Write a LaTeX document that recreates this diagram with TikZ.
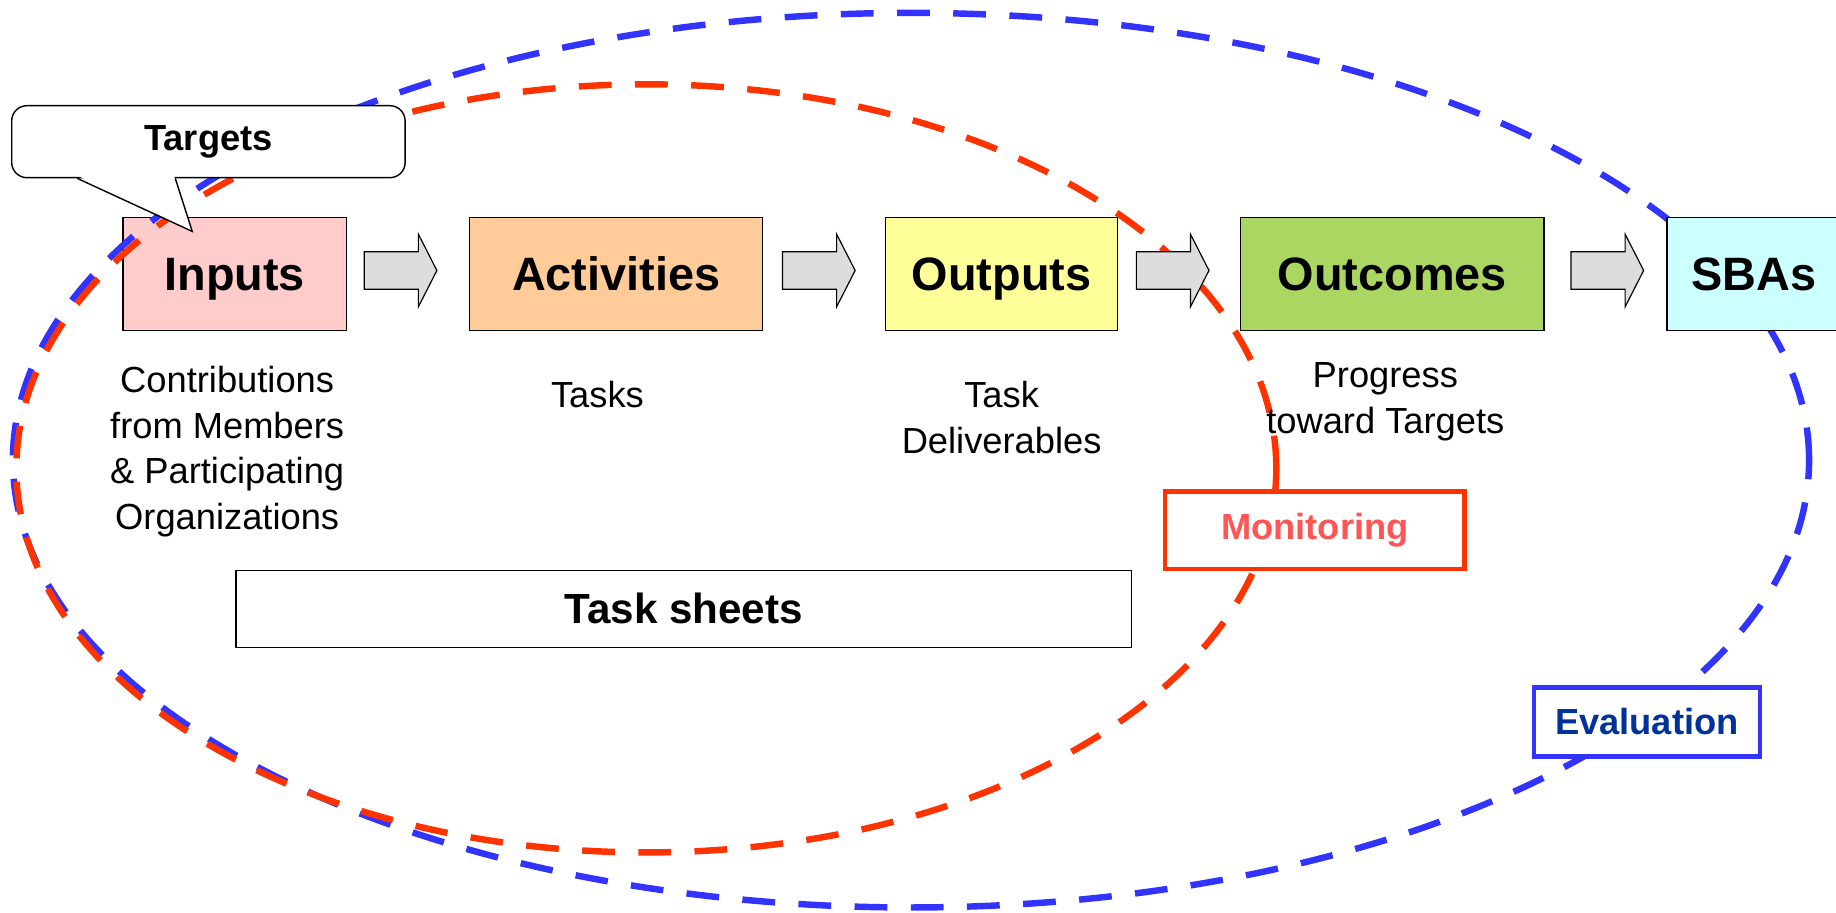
\documentclass[tikz,border=0pt]{standalone}
\usepackage{fontspec}
\setmainfont{Liberation Sans}
\usetikzlibrary{positioning,shapes.arrows,calc}

\definecolor{inputpink}{HTML}{FFCCCC}
\definecolor{activityorange}{HTML}{FFCC99}
\definecolor{outputyellow}{HTML}{FFFF99}
\definecolor{outcomegreen}{HTML}{AAD661}
\definecolor{sbacyan}{HTML}{CCFFFF}
\definecolor{arrowgray}{HTML}{DDDDDD}
\definecolor{monred}{HTML}{FF3300}
\definecolor{montext}{HTML}{FF5555}
\definecolor{evalblue}{HTML}{3333FF}
\definecolor{evaltext}{HTML}{003399}

\tikzstyle{stage} = [rectangle, minimum height=96pt, text centered, text height=29pt, text depth=0pt, draw=black, line width=1.2pt, font=\fontsize{40}{48}\selectfont\bfseries]
\tikzstyle{flowarrow} = [single arrow, draw=black, line width=1pt, fill=arrowgray, minimum height=62pt, text height=15.5pt, text depth=15.5pt, single arrow head extend=15pt, single arrow tip angle=126, inner sep=0pt]
\tikzstyle{note} = [align=center, inner sep=0pt, font=\fontsize{31}{39}\selectfont]
\tikzstyle{tagbox} = [rectangle, draw, fill=white, line width=4pt, font=\fontsize{31}{37}\selectfont\bfseries]
\tikzstyle{monline} = [draw=monred, line width=5.5pt, dash pattern=on 28pt off 20pt]
\tikzstyle{evalline} = [draw=evalblue, line width=5.5pt, dash pattern=on 28pt off 20pt]

\begin{document}
\begin{tikzpicture}[x=1pt, y=-1pt, node distance=104pt]
\useasboundingbox (0,0) rectangle (1568,779);

%stages
\node (Inputs) [stage, fill=inputpink, minimum width=191pt] at (200.5,234) {Inputs};

%monitoring and evaluation loops
\draw [evalline] (778,393) ellipse [x radius=767pt, y radius=382pt];
\draw [monline] (552,400) ellipse [x radius=538pt, y radius=328pt];

\node (Activities) [stage, fill=activityorange, minimum width=250pt, right=of Inputs] {Activities};
\node (Outputs) [stage, fill=outputyellow, minimum width=198pt, right=of Activities] {Outputs};
\node (Outcomes) [stage, fill=outcomegreen, minimum width=259pt, right=of Outputs] {Outcomes};
\node (SBAs) [stage, fill=sbacyan, minimum width=148pt, right=of Outcomes] {SBAs};

%arrows between stages
\node (arr1) [flowarrow, right=14pt of Inputs, yshift=3pt] {};
\node (arr2) [flowarrow, right=16pt of Activities, yshift=3pt] {};
\node (arr3) [flowarrow, right=15pt of Outputs, yshift=3pt] {};
\node (arr4) [flowarrow, right=22pt of Outcomes, yshift=3pt] {};

%descriptions
\node (InputsNote) [note, below=30pt of Inputs, xshift=-6.5pt] {Contributions\\from Members\\\& Participating\\Organizations};
\node (ActivitiesNote) [note, below=43pt of Activities, xshift=-16pt] {Tasks};
\node (OutputsNote) [note, below=43pt of Outputs] {Task\\Deliverables};
\node (OutcomesNote) [note, below=27pt of Outcomes, xshift=-6pt] {Progress\\toward Targets};

\node (TaskSheets) [rectangle, draw, fill=white, line width=1.2pt, minimum width=765pt, minimum height=66pt, font=\fontsize{36}{43}\selectfont\bfseries] at (584,520) {Task sheets};

%labels
\node (Monitoring) [tagbox, draw=monred, text=montext, minimum width=256pt, minimum height=66pt] at (1123,453) {Monitoring};
\node (Evaluation) [tagbox, draw=evalblue, text=evaltext, minimum width=193pt, minimum height=59pt] at (1406.5,616.5) {Evaluation};

%targets callout
\node (Targets) [rectangle, rounded corners=13pt, draw, fill=white, line width=1.2pt, minimum width=336pt, minimum height=61.5pt, font=\fontsize{31}{37}\selectfont\bfseries] at (178,121) {Targets};
\coordinate (tailL) at ($(Targets.south west)+(56.6,0)$);
\coordinate (tailR) at ($(Targets.south west)+(140.3,0)$);
\coordinate (tip) at ($(Targets.south west)+(154.8,45.3)$);
\fill [white] ($(tailL)+(1,-2)$) -- (tip) -- ($(tailR)+(-1,-2)$) -- cycle;
\draw [line width=1.2pt, line join=miter] (tailL) -- (tip) -- (tailR);

\end{tikzpicture}
\end{document}
